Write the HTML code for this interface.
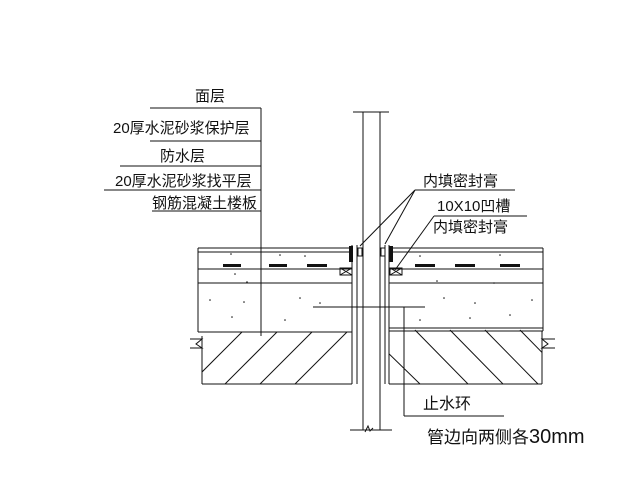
<!DOCTYPE html>
<html><head><meta charset="utf-8"><style>
body{margin:0;background:#fff;}
svg{display:block}
text{font-family:"Liberation Sans","Noto Sans CJK SC",sans-serif;fill:#111;}
</style></head><body>
<svg width="640" height="486" viewBox="0 0 640 486" xmlns="http://www.w3.org/2000/svg">
<defs>
<clipPath id="cl"><rect x="202" y="332" width="150" height="52"/></clipPath>
<clipPath id="cr"><rect x="389" y="328" width="153" height="56"/></clipPath>
</defs>
<g stroke="#111" stroke-width="1" fill="none">
<!-- left labels -->
<line x1="261" y1="108" x2="261" y2="336"/>
<line x1="150" y1="108" x2="261" y2="108"/>
<line x1="150" y1="141" x2="261" y2="141"/>
<line x1="120" y1="166" x2="261" y2="166"/>
<line x1="104" y1="190" x2="261" y2="190"/>
<line x1="152" y1="211" x2="261" y2="211"/>
<!-- pipe -->
<line x1="363" y1="112" x2="363" y2="430"/>
<line x1="380" y1="112" x2="380" y2="430"/>
<line x1="353" y1="112" x2="389" y2="112"/>
<line x1="350" y1="430" x2="392" y2="430"/>
<polyline points="365,432 368,426 370,431 373,428"/>
<!-- sleeves -->
<line x1="352" y1="245" x2="352" y2="384"/>
<line x1="357" y1="245" x2="357" y2="384"/>
<line x1="385" y1="245" x2="385" y2="384"/>
<line x1="389" y1="245" x2="389" y2="384"/>
<!-- right labels -->
<line x1="415" y1="190" x2="515" y2="190"/>
<line x1="434" y1="216" x2="527" y2="216"/>
<line x1="415" y1="190" x2="360" y2="246"/>
<line x1="415" y1="190" x2="385" y2="244"/>
<line x1="434" y1="216" x2="395" y2="270"/>
<!-- floor layers left -->
<line x1="198" y1="248" x2="349" y2="248"/>
<line x1="198" y1="252" x2="349" y2="252"/>
<line x1="198" y1="269" x2="352" y2="269"/>
<line x1="198" y1="283" x2="352" y2="283"/>
<line x1="198" y1="332" x2="352" y2="332"/>
<line x1="198" y1="248" x2="198" y2="332"/>
<!-- right -->
<line x1="393" y1="248" x2="543" y2="248"/>
<line x1="393" y1="252" x2="543" y2="252"/>
<line x1="389" y1="269" x2="543" y2="269"/>
<line x1="389" y1="283" x2="543" y2="283"/>
<line x1="389" y1="328" x2="543" y2="328"/>
<line x1="389" y1="331" x2="543" y2="331"/>
<line x1="543" y1="248" x2="543" y2="331"/>
<!-- slab -->
<line x1="202" y1="384" x2="352" y2="384"/>
<line x1="389" y1="384" x2="542" y2="384"/>
<line x1="202" y1="336" x2="202" y2="384"/>
<line x1="542" y1="331" x2="542" y2="384"/>
<polyline points="190,339 202,339 196,344 202,348 190,348"/>
<polyline points="555,339 542,339 548,344 542,348 555,348"/>
<!-- hatch -->
<g clip-path="url(#cl)">
<line x1="190" y1="384" x2="250" y2="324"/>
<line x1="225" y1="384" x2="285" y2="324"/>
<line x1="260" y1="384" x2="320" y2="324"/>
<line x1="295" y1="384" x2="355" y2="324"/>
</g>
<g clip-path="url(#cr)">
<line x1="415" y1="330" x2="468" y2="384"/>
<line x1="450" y1="330" x2="503" y2="384"/>
<line x1="485" y1="330" x2="538" y2="384"/>
<line x1="520" y1="330" x2="573" y2="384"/>
<line x1="380" y1="345" x2="420" y2="384"/>
</g>
<!-- leader -->
<line x1="313" y1="307" x2="425" y2="307"/>
<line x1="404" y1="307" x2="404" y2="416"/>
<line x1="404" y1="416" x2="504" y2="416"/>
<!-- crosshatch boxes -->
<rect x="340" y="268" width="12" height="7"/>
<rect x="390" y="268" width="12" height="7"/>
<path d="M340 268l12 7M352 268l-12 7M390 268l12 7M402 268l-12 7"/>
<rect x="358" y="248" width="4" height="8"/>
<rect x="381" y="248" width="4" height="8"/>
</g>
<g fill="#111">
<rect x="349" y="246" width="4" height="16"/>
<rect x="389" y="246" width="4" height="16"/>
<rect x="223" y="264" width="18" height="3"/>
<rect x="269" y="264" width="18" height="3"/>
<rect x="307" y="264" width="20" height="3"/>
<rect x="415" y="264" width="20" height="3"/>
<rect x="455" y="264" width="20" height="3"/>
<rect x="500" y="264" width="20" height="3"/>
<g>
<circle cx="231" cy="254" r="0.8"/><circle cx="280" cy="255" r="0.8"/><circle cx="305" cy="256" r="0.8"/><circle cx="420" cy="256" r="0.8"/><circle cx="500" cy="255" r="0.8"/>
<circle cx="235" cy="274" r="0.8"/><circle cx="247" cy="282" r="0.8"/><circle cx="437" cy="281" r="0.8"/><circle cx="494" cy="283" r="0.8"/>
<circle cx="210" cy="300" r="0.8"/><circle cx="244" cy="302" r="0.8"/><circle cx="300" cy="298" r="0.8"/><circle cx="320" cy="303" r="0.8"/>
<circle cx="232" cy="317" r="0.8"/><circle cx="285" cy="320" r="0.8"/><circle cx="444" cy="298" r="0.8"/><circle cx="475" cy="303" r="0.8"/><circle cx="532" cy="300" r="0.8"/><circle cx="510" cy="315" r="0.8"/><circle cx="420" cy="320" r="0.8"/><circle cx="470" cy="318" r="0.8"/>
</g>
</g>
<g font-size="15">
<text x="195" y="101">面层</text>
<text x="113" y="133">20厚水泥砂浆保护层</text>
<text x="160" y="161">防水层</text>
<text x="115" y="186">20厚水泥砂浆找平层</text>
<text x="152" y="208">钢筋混凝土楼板</text>
<text x="423" y="186">内填密封膏</text>
<text x="437" y="211">10X10凹槽</text>
<text x="433" y="232">内填密封膏</text>
<text x="423" y="409" font-size="16">止水环</text>
<text x="427" y="443" font-size="17">管边向两侧各<tspan font-size="20">30mm</tspan></text>
</g>
</svg>
</body></html>
